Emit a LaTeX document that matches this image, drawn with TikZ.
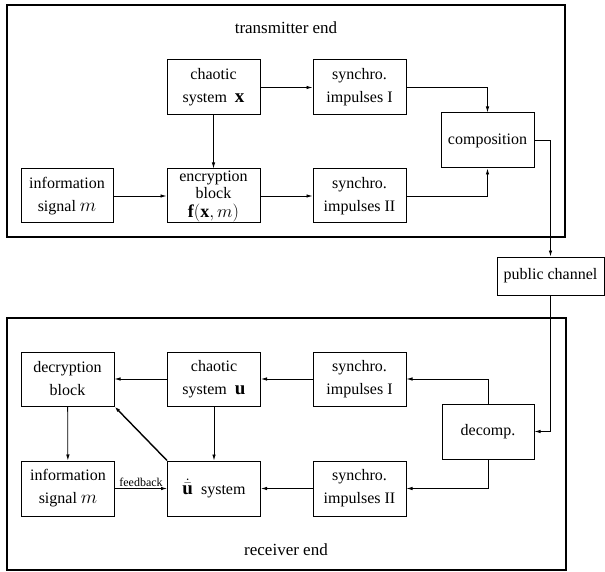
\RequirePackage{fix-cm}
\documentclass[tikz,border=0pt]{standalone}
\usepackage{fontspec}
\setmainfont{Liberation Serif}
\usetikzlibrary{arrows.meta}
\newcommand\mth[1]{{\fontsize{19}{22}\selectfont$#1$}}
\begin{document}
\begin{tikzpicture}[x=1pt,y=-1pt,
  blk/.style={draw,line width=1pt,minimum width=93pt,minimum height=55pt,inner sep=0pt,align=center,font=\fontsize{16}{23}\selectfont},
  frame/.style={draw,line width=1.3pt},
  conn/.style={line width=0.8pt,-{Latex[length=6pt,width=3.5pt]}},
  lbl/.style={font=\fontsize{17}{20}\selectfont,inner sep=0pt}]
\useasboundingbox (0,0) rectangle (605,572);
% frames
\draw[frame] (7,5) rectangle (565,237);
\draw[frame] (7,318) rectangle (566,570);
\node[lbl] (tx) at (286,28) {transmitter end};
\node[lbl] (rx) at (286,550) {receiver end};
% transmitter blocks
\node[blk] (chx) at (213.5,87.5) {chaotic\\system\ \ \mth{\mathbf{x}}};
\node[blk] (s1t) at (359.5,87.5) {synchro.\\impulses I};
\node[blk] (comp) at (487.5,140.5) {composition};
\node[blk,minimum width=92pt,minimum height=54pt] (inf1) at (67,196) {information\\signal \mth{m}};
\node[blk,minimum height=54pt,font=\fontsize{16}{17.5}\selectfont] (enc) at (213.5,196) {encryption\\block\\[1pt]{\fontsize{18}{20}\selectfont$\mathbf{f}(\mathbf{x},m)$}};
\node[blk,minimum height=54pt] (s2t) at (359.5,196) {synchro.\\impulses II};
% public channel
\node[blk,minimum width=107pt,minimum height=38pt] (pub) at (550.5,276) {public channel};
% receiver blocks
\node[blk,minimum height=54pt] (dec) at (67.5,379) {decryption\\block};
\node[blk,minimum height=54pt] (chu) at (214,379) {chaotic\\system\ \ \mth{\mathbf{u}}};
\node[blk,minimum height=54pt] (s1r) at (359.5,379) {synchro.\\impulses I};
\node[blk,minimum width=92pt] (dcp) at (488,431.5) {decomp.};
\node[blk] (inf2) at (68,488.5) {information\\signal \mth{m}};
\node[blk] (ud) at (214,488.5) {\mth{\dot{\bar{\mathbf{u}}}}\ \ system};
\node[blk] (s2r) at (359.5,488.5) {synchro.\\impulses II};
% transmitter connectors
\draw[conn] (chx) -- (s1t);
\draw[conn] (s1t.east) -| (comp.north);
\draw[conn] (chx) -- (enc);
\draw[conn] (inf1) -- (enc);
\draw[conn] (enc) -- (s2t);
\draw[conn] (s2t.east) -| (comp.south);
\draw[conn] (comp.east) -| (pub.north);
\draw[conn] (pub.south) |- (dcp.east);
% receiver connectors
\draw[conn] (dcp.north) |- (s1r.east);
\draw[conn] (s1r) -- (chu);
\draw[conn] (chu) -- (dec);
\draw[conn] (chu) -- (ud);
\draw[conn] (dcp.south) |- (s2r.east);
\draw[conn] (s2r) -- (ud);
\draw[conn] (dec) -- (inf2);
\draw[conn] (inf2) -- node[above,inner sep=1.5pt,font=\fontsize{12}{14}\selectfont] (fb) {feedback} (ud);
\draw[conn,line width=1.4pt] (ud.north west) -- (dec.south east);
\end{tikzpicture}
\end{document}
